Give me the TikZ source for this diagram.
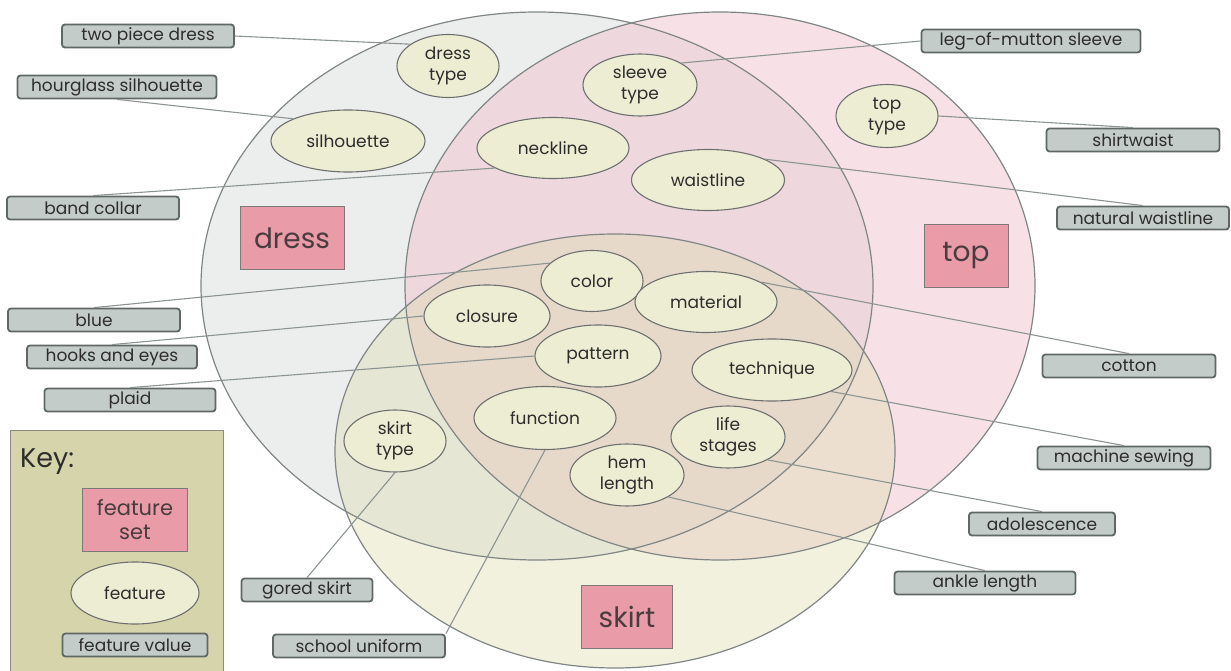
\documentclass[tikz,border=0pt]{standalone}
\usepackage{fontspec}
\setmainfont{Poppins}
\usetikzlibrary{shapes.geometric}

\definecolor{dressfill}{RGB}{236,238,238}
\definecolor{topfill}{RGB}{240,196,206}
\definecolor{skirtfill}{RGB}{220,220,172}
\definecolor{ringcol}{RGB}{128,134,134}
\definecolor{featfill}{RGB}{237,237,212}
\definecolor{featline}{RGB}{110,112,112}
\definecolor{valfill}{RGB}{195,204,200}
\definecolor{valline}{RGB}{95,104,100}
\definecolor{setfill}{RGB}{233,156,168}
\definecolor{setline}{RGB}{128,120,120}
\definecolor{setink}{RGB}{72,60,62}
\definecolor{keyfill}{RGB}{214,212,170}
\definecolor{keyline}{RGB}{140,140,128}
\definecolor{linkcol}{RGB}{140,148,147}
\definecolor{ink}{RGB}{45,45,45}

\begin{document}
\begin{tikzpicture}[x=1pt, y=-1pt,
    feat/.style={ellipse, draw=featline, fill=featfill, line width=1.1pt, inner sep=0pt, align=center, text=ink, font=\fontsize{17}{21}\selectfont},
    fval/.style={draw=valline, fill=valfill, rounded corners=3pt, line width=1.8pt, minimum width=172pt, minimum height=23pt, inner sep=0pt, text=ink, font=\fontsize{17}{20}\selectfont},
    fset/.style={draw=setline, fill=setfill, line width=1pt, inner sep=0pt, align=center, text=setink, font=\fontsize{28}{28}\selectfont},
    ring/.style={draw=ringcol, line width=1.2pt},
    link/.style={draw=linkcol, line width=1.1pt}
]
\useasboundingbox (0,0) rectangle (1231,671);

\fill[dressfill] (537,286) ellipse [x radius=336pt, y radius=274pt];
\fill[topfill, fill opacity=.5] (720,286) ellipse [x radius=315pt, y radius=274pt];
\fill[skirtfill, fill opacity=.4] (615,451) ellipse [x radius=280pt, y radius=217pt];
\draw[ring] (537,286) ellipse [x radius=336pt, y radius=274pt];
\draw[ring] (720,286) ellipse [x radius=315pt, y radius=274pt];
\draw[ring] (615,451) ellipse [x radius=280pt, y radius=217pt];

\draw[draw=keyline, fill=keyfill, line width=1pt] (10,430) rectangle (223,680);
\node[anchor=west, text=ink, font=\fontsize{27}{27}\selectfont, inner sep=0pt] (keytitle) at (20,462) {Key:};
\node[fset, minimum width=105pt, minimum height=63pt, font=\fontsize{21}{24}\selectfont] (keyset) at (135,520) {feature\\set};
\node[feat, minimum width=128pt, minimum height=62pt] (keyfeat) at (135,593) {feature};
\node[fval, minimum width=145pt] (keyval) at (135,645) {feature value};

\node[fset, minimum width=104pt, minimum height=62pt] (dress) at (292,238) {dress};
\node[fset, minimum width=84pt, minimum height=63pt] (top) at (966,256) {top};
\node[fset, minimum width=91pt, minimum height=63pt] (skirt) at (627,617) {skirt};

\node[feat, minimum width=102pt, minimum height=63pt] (dresstype) at (448,66) {dress\\type};
\node[feat, minimum width=114pt, minimum height=62pt] (sleevetype) at (640,85) {sleeve\\type};
\node[feat, minimum width=102pt, minimum height=63pt] (toptype) at (887,116) {top\\type};
\node[feat, minimum width=154pt, minimum height=62pt] (silhouette) at (348,141) {silhouette};
\node[feat, minimum width=152pt, minimum height=61pt] (neckline) at (553,148) {neckline};
\node[feat, minimum width=153pt, minimum height=61pt] (waistline) at (708,180) {waistline};
\node[feat, minimum width=102pt, minimum height=61pt] (color) at (592,281) {color};
\node[feat, minimum width=142pt, minimum height=61pt] (material) at (706,302) {material};
\node[feat, minimum width=126pt, minimum height=62pt] (closure) at (487,316) {closure};
\node[feat, minimum width=126pt, minimum height=62pt] (pattern) at (598,356) {pattern};
\node[feat, minimum width=160pt, minimum height=62pt] (technique) at (772,370) {technique};
\node[feat, minimum width=142pt, minimum height=63pt] (function) at (545,418) {function};
\node[feat, minimum width=114pt, minimum height=62pt] (lifestages) at (728,437) {life\\stages};
\node[feat, minimum width=114pt, minimum height=62pt] (hemlength) at (627,475) {hem\\length};
\node[feat, minimum width=102pt, minimum height=62pt] (skirttype) at (395,441) {skirt\\type};

\node[fval] (twopiece) at (148,36) {two piece dress};
\node[fval, minimum width=199pt] (hourglass) at (117,87) {hourglass silhouette};
\node[fval] (bandcollar) at (93,208) {band collar};
\node[fval] (blue) at (94,320) {blue};
\node[fval, minimum width=170pt] (hooks) at (112,357) {hooks and eyes};
\node[fval, minimum width=171pt] (plaid) at (130,400) {plaid};
\node[fval, minimum width=131pt] (goredskirt) at (307,590) {gored skirt};
\node[fval] (school) at (359,646) {school uniform};
\node[fval, minimum width=219pt] (legmutton) at (1031,41) {leg-of-mutton sleeve};
\node[fval, minimum width=173pt] (shirtwaist) at (1133,140) {shirtwaist};
\node[fval] (naturalwaist) at (1143,218) {natural waistline};
\node[fval, minimum width=173pt] (cotton) at (1129,366) {cotton};
\node[fval, minimum width=173pt] (machine) at (1124,458) {machine sewing};
\node[fval, minimum width=146pt] (adolescence) at (1042,524) {adolescence};
\node[fval, minimum width=181pt] (ankle) at (985,583) {ankle length};

\draw[link] (twopiece.east) -- (dresstype.150);
\draw[link] (hourglass.south) -- (silhouette.158);
\draw[link] (bandcollar.north) -- (neckline.199);
\draw[link] (blue.north) -- (color.157);
\draw[link] (hooks.north) -- (closure.west);
\draw[link] (plaid.north) -- (pattern.west);
\draw[link] (goredskirt.north) -- (skirttype.south);
\draw[link] (school.north east) -- (function.south);
\draw[link] (legmutton.west) -- (sleevetype.28);
\draw[link] (toptype.east) -- (shirtwaist.north);
\draw[link] (waistline.20) -- (naturalwaist.north);
\draw[link] (material.20) -- (cotton.north);
\draw[link] (technique.-20) -- (machine.north);
\draw[link] (lifestages.-30) -- (adolescence.north);
\draw[link] (hemlength.-28) -- (ankle.north);
\end{tikzpicture}
\end{document}
